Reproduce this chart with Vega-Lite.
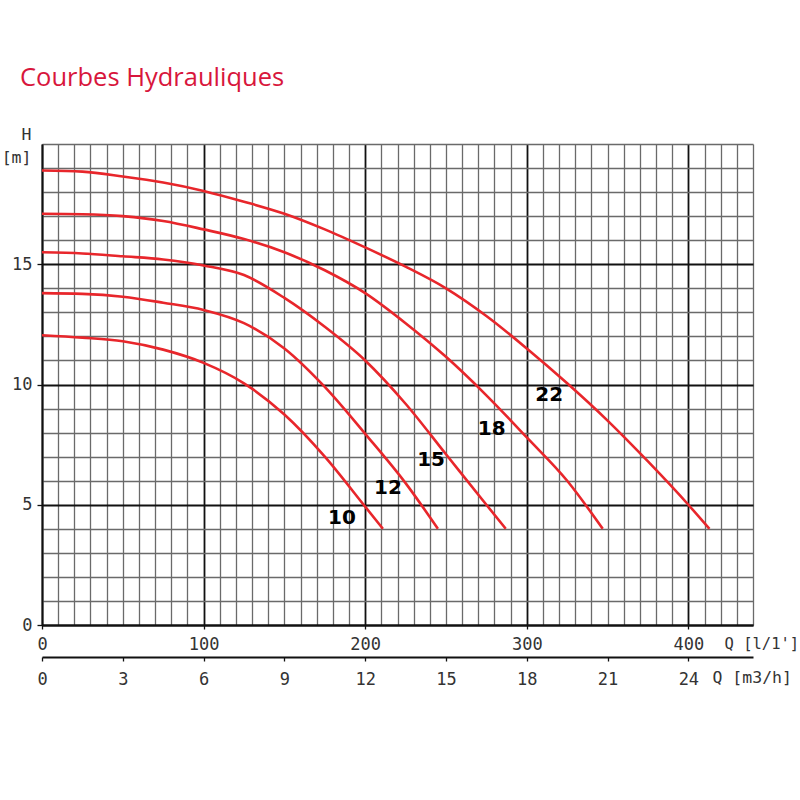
{
  "$schema": "https://vega.github.io/schema/vega-lite/v6.json",
  "autosize": {"type": "none"},
  "width": 711,
  "height": 481,
  "padding": {"left": 42, "top": 144, "right": 47, "bottom": 175},
  "background": "white",
  "title": {
    "text": "Courbes Hydrauliques",
    "anchor": "start",
    "frame": "group",
    "font": "Open Sans",
    "fontSize": 25.5,
    "fontWeight": "normal",
    "color": "#d8163c",
    "baseline": "alphabetic",
    "dx": -22,
    "offset": 15
  },
  "config": {"view": {"stroke": null}},
  "datasets": {
    "curves": [
      {"curve": "22", "q": 0, "h": 18.9}, {"curve": "22", "q": 25, "h": 18.85}, {"curve": "22", "q": 50, "h": 18.65}, {"curve": "22", "q": 75, "h": 18.4}, {"curve": "22", "q": 100, "h": 18.05}, {"curve": "22", "q": 125, "h": 17.6}, {"curve": "22", "q": 150, "h": 17.1}, {"curve": "22", "q": 175, "h": 16.45}, {"curve": "22", "q": 200, "h": 15.7}, {"curve": "22", "q": 225, "h": 14.9}, {"curve": "22", "q": 250, "h": 14.0}, {"curve": "22", "q": 275, "h": 12.85}, {"curve": "22", "q": 300, "h": 11.5}, {"curve": "22", "q": 325, "h": 10.05}, {"curve": "22", "q": 350, "h": 8.5}, {"curve": "22", "q": 375, "h": 6.8}, {"curve": "22", "q": 400, "h": 5.0}, {"curve": "22", "q": 413, "h": 4.0},
      {"curve": "18", "q": 0, "h": 17.1}, {"curve": "18", "q": 25, "h": 17.08}, {"curve": "18", "q": 50, "h": 17.0}, {"curve": "18", "q": 75, "h": 16.8}, {"curve": "18", "q": 100, "h": 16.45}, {"curve": "18", "q": 125, "h": 16.05}, {"curve": "18", "q": 150, "h": 15.5}, {"curve": "18", "q": 175, "h": 14.75}, {"curve": "18", "q": 200, "h": 13.8}, {"curve": "18", "q": 225, "h": 12.55}, {"curve": "18", "q": 250, "h": 11.15}, {"curve": "18", "q": 275, "h": 9.55}, {"curve": "18", "q": 300, "h": 7.8}, {"curve": "18", "q": 325, "h": 6.0}, {"curve": "18", "q": 347, "h": 4.0},
      {"curve": "15", "q": 0, "h": 15.5}, {"curve": "15", "q": 25, "h": 15.45}, {"curve": "15", "q": 50, "h": 15.33}, {"curve": "15", "q": 75, "h": 15.2}, {"curve": "15", "q": 100, "h": 14.95}, {"curve": "15", "q": 125, "h": 14.55}, {"curve": "15", "q": 150, "h": 13.6}, {"curve": "15", "q": 175, "h": 12.4}, {"curve": "15", "q": 200, "h": 11.0}, {"curve": "15", "q": 225, "h": 9.2}, {"curve": "15", "q": 250, "h": 7.1}, {"curve": "15", "q": 275, "h": 5.0}, {"curve": "15", "q": 287, "h": 4.0},
      {"curve": "12", "q": 0, "h": 13.8}, {"curve": "12", "q": 25, "h": 13.77}, {"curve": "12", "q": 50, "h": 13.65}, {"curve": "12", "q": 75, "h": 13.4}, {"curve": "12", "q": 100, "h": 13.1}, {"curve": "12", "q": 125, "h": 12.55}, {"curve": "12", "q": 150, "h": 11.5}, {"curve": "12", "q": 175, "h": 9.9}, {"curve": "12", "q": 200, "h": 7.95}, {"curve": "12", "q": 225, "h": 5.9}, {"curve": "12", "q": 245, "h": 4.0},
      {"curve": "10", "q": 0, "h": 12.05}, {"curve": "10", "q": 25, "h": 11.95}, {"curve": "10", "q": 50, "h": 11.8}, {"curve": "10", "q": 75, "h": 11.45}, {"curve": "10", "q": 100, "h": 10.9}, {"curve": "10", "q": 125, "h": 10.05}, {"curve": "10", "q": 150, "h": 8.75}, {"curve": "10", "q": 175, "h": 7.0}, {"curve": "10", "q": 200, "h": 4.92}, {"curve": "10", "q": 211, "h": 4.0}
    ],
    "labels": [
      {"label": "10", "q": 185.6, "h": 4.43},
      {"label": "12", "q": 214.1, "h": 5.68},
      {"label": "15", "q": 240.8, "h": 6.86},
      {"label": "18", "q": 278.3, "h": 8.15},
      {"label": "22", "q": 313.9, "h": 9.58}
    ],
    "m3h": [
      {"m3h": 0}, {"m3h": 3}, {"m3h": 6}, {"m3h": 9}, {"m3h": 12}, {"m3h": 15}, {"m3h": 18}, {"m3h": 21}, {"m3h": 24}
    ]
  },
  "layer": [
    {
      "encoding": {
        "x": {
          "field": "q", "type": "quantitative",
          "scale": {"domain": [0, 440], "nice": false, "zero": true},
          "axis": {
            "orient": "bottom",
            "values": [0,10,20,30,40,50,60,70,80,90,100,110,120,130,140,150,160,170,180,190,200,210,220,230,240,250,260,270,280,290,300,310,320,330,340,350,360,370,380,390,400,410,420,430,440],
            "grid": true,
            "gridColor": {"condition": {"test": "datum.value % 100 === 0", "value": "#111111"}, "value": "#6a6a6a"},
            "gridWidth": {"condition": {"test": "datum.value % 100 === 0", "value": 1.8}, "value": 1.3},
            "gridOpacity": 1,
            "labelExpr": "datum.value % 100 === 0 ? datum.label : ''",
            "tickOpacity": {"condition": {"test": "datum.value % 100 === 0", "value": 1}, "value": 0},
            "tickSize": 4,
            "tickColor": "#111111",
            "tickWidth": 1.3,
            "domainColor": "#111111",
            "domainWidth": 1.8,
            "labelFont": "DejaVu Sans Mono",
            "labelFontSize": 17,
            "labelColor": "#333333",
            "labelPadding": 7,
            "labelFlush": false,
            "labelOverlap": false,
            "title": "Q [l/1']",
            "titleFont": "DejaVu Sans Mono",
            "titleFontSize": 15.5,
            "titleFontWeight": "normal",
            "titleColor": "#333333",
            "titleAlign": "left",
            "titleBaseline": "alphabetic",
            "titleAnchor": null,
            "titleX": 682,
            "titleY": 23
          }
        },
        "y": {
          "field": "h", "type": "quantitative",
          "scale": {"domain": [0, 20], "nice": false, "zero": true},
          "axis": {
            "values": [0,1,2,3,4,5,6,7,8,9,10,11,12,13,14,15,16,17,18,19,20],
            "grid": true,
            "gridColor": {"condition": {"test": "datum.value % 5 === 0 && datum.value < 20", "value": "#111111"}, "value": "#6a6a6a"},
            "gridWidth": {"condition": {"test": "datum.value % 5 === 0 && datum.value < 20", "value": 1.8}, "value": 1.3},
            "gridOpacity": 1,
            "labelExpr": "datum.value % 5 === 0 && datum.value < 20 ? datum.label : ''",
            "tickOpacity": {"condition": {"test": "datum.value % 5 === 0 && datum.value < 20", "value": 1}, "value": 0},
            "tickSize": 5,
            "tickColor": "#111111",
            "tickWidth": 1.3,
            "domainColor": "#111111",
            "domainWidth": 1.8,
            "labelFont": "DejaVu Sans Mono",
            "labelFontSize": 17,
            "labelColor": "#333333",
            "labelPadding": 5,
            "labelFlush": false,
            "labelOverlap": false,
            "title": ["H", "[m]"],
            "titleFont": "DejaVu Sans Mono",
            "titleFontSize": 16.5,
            "titleFontWeight": "normal",
            "titleColor": "#333333",
            "titleAngle": 0,
            "titleAlign": "right",
            "titleBaseline": "alphabetic",
            "titleAnchor": null,
            "titleLineHeight": 23,
            "titleX": -11,
            "titleY": -5
          }
        }
      },
      "layer": [
        {
          "data": {"name": "curves"},
          "mark": {"type": "line", "color": "#e8262b", "strokeWidth": 2.6, "interpolate": "monotone"},
          "encoding": {"detail": {"field": "curve", "type": "nominal"}}
        },
        {
          "data": {"name": "labels"},
          "mark": {"type": "text", "font": "DejaVu Sans", "fontWeight": "bold", "fontSize": 20, "color": "#000000", "align": "center", "baseline": "middle"},
          "encoding": {"text": {"field": "label", "type": "nominal"}}
        }
      ]
    },
    {
      "data": {"name": "m3h"},
      "mark": {"type": "tick", "opacity": 0},
      "encoding": {
        "x": {
          "field": "m3h", "type": "quantitative",
          "scale": {"domain": [0, 26.4], "nice": false, "zero": true},
          "axis": {
            "orient": "bottom",
            "offset": 32,
            "values": [0,3,6,9,12,15,18,21,24],
            "grid": false,
            "tickSize": 4,
            "tickColor": "#111111",
            "tickWidth": 1.3,
            "domainColor": "#111111",
            "domainWidth": 1.8,
            "labelFont": "DejaVu Sans Mono",
            "labelFontSize": 17,
            "labelColor": "#333333",
            "labelPadding": 10,
            "labelFlush": false,
            "labelOverlap": false,
            "title": "Q [m3/h]",
            "titleFont": "DejaVu Sans Mono",
            "titleFontSize": 16.5,
            "titleFontWeight": "normal",
            "titleColor": "#333333",
            "titleAlign": "left",
            "titleBaseline": "alphabetic",
            "titleAnchor": null,
            "titleX": 670,
            "titleY": 25
          }
        }
      }
    }
  ],
  "resolve": {"scale": {"x": "independent"}}
}
